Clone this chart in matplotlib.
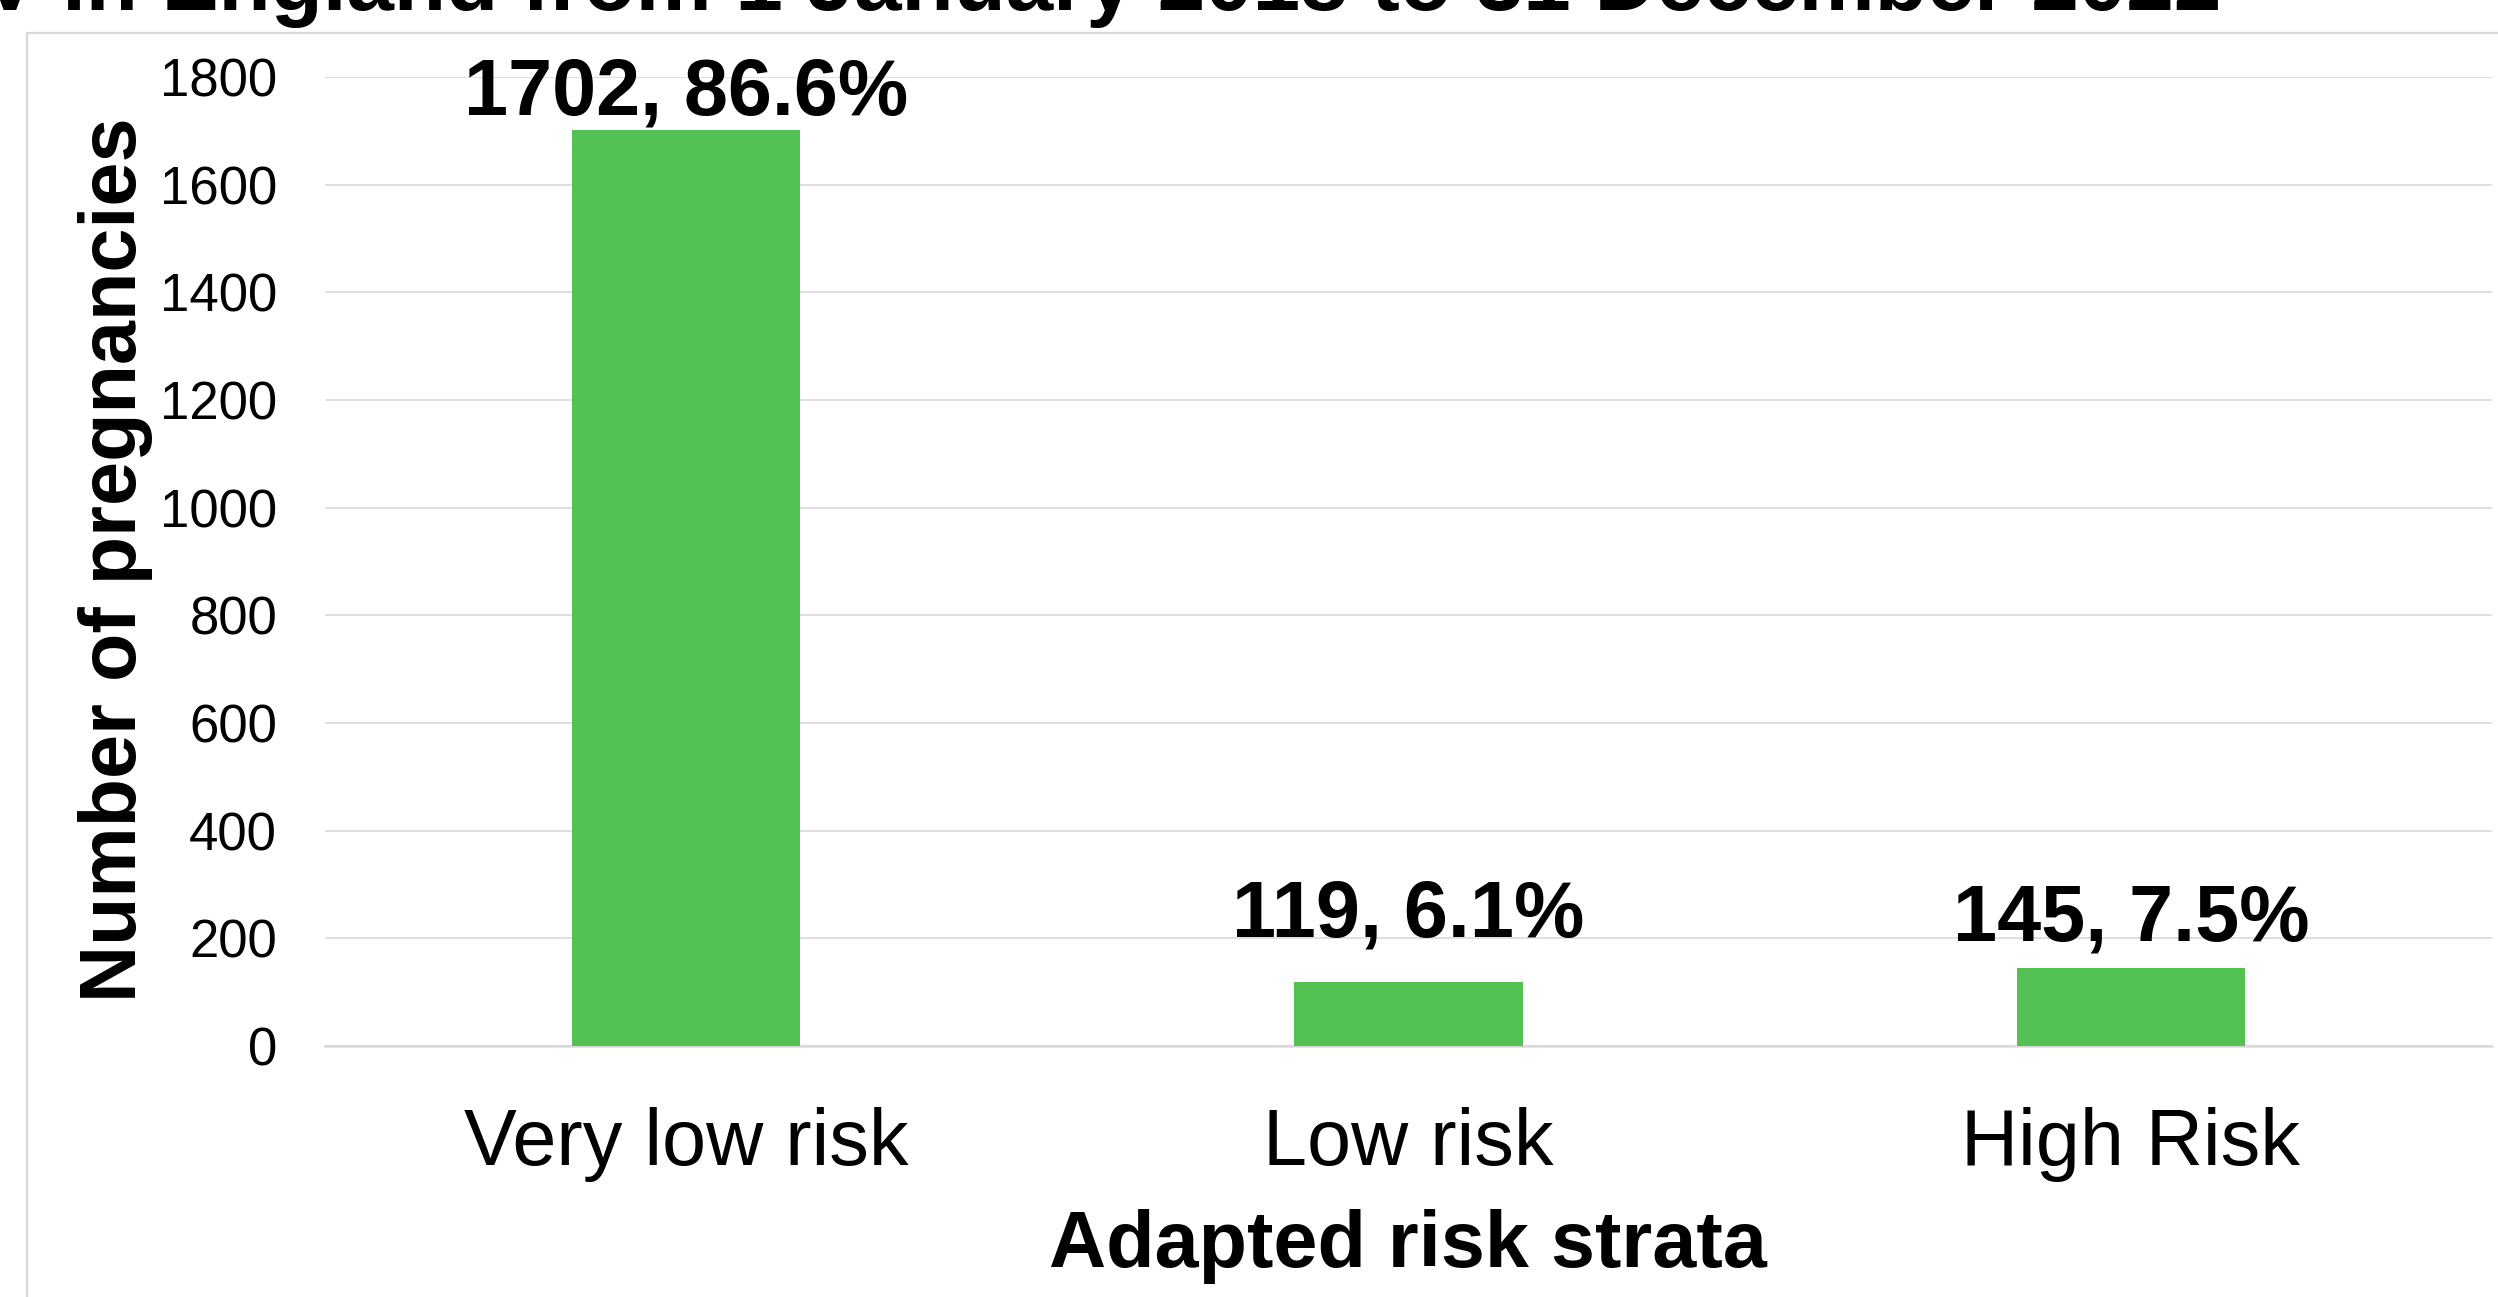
import matplotlib
matplotlib.use("Agg")
import matplotlib.pyplot as plt
from matplotlib.patches import Rectangle

# ---- data ----
categories = ["Very low risk", "Low risk", "High Risk"]
counts = [1702, 119, 145]
percents = [86.6, 6.1, 7.5]
y_ticks = [0, 200, 400, 600, 800, 1000, 1200, 1400, 1600, 1800]
title_text = "HIV in England from 1 January 2018 to 31 December 2022"
x_title = "Adapted risk strata"
y_title = "Number of pregnancies"

# ---- style ----
label_offsets_pt = [10.8, 32.4, 19.4]
bar_color = "#54C153"
grid_color = "#D9D9D9"
W, H = 2498, 1297
DPI = 100

plt.rcParams["font.family"] = ["Liberation Sans", "DejaVu Sans"]

fig = plt.figure(figsize=(W / DPI, H / DPI), dpi=DPI)
fig.patch.set_facecolor("white")

# chart-area border (extends beyond the visible image on right/bottom)
border = Rectangle((27 / W, -0.1), 1.2, 1 - 33 / H + 0.1, transform=fig.transFigure,
                   fill=False, edgecolor=grid_color, linewidth=1.6, zorder=0)
fig.add_artist(border)

ax_left, ax_right = 325 / W, 2492 / W
ax_bottom, ax_top = 1 - 1046 / H, 1 - 77 / H
ax = fig.add_axes([ax_left, ax_bottom, ax_right - ax_left, ax_top - ax_bottom])

x = list(range(len(categories)))
bars = ax.bar(x, counts, width=0.316, color=bar_color, zorder=3)

ax.set_xlim(-0.5, len(categories) - 0.5)
ax.set_ylim(0, 1800)
ax.set_yticks(y_ticks)
ax.set_yticklabels([str(t) for t in y_ticks], fontsize=38)
ax.set_xticks(x)
ax.set_xticklabels(categories, fontsize=57)
ax.tick_params(axis="y", length=0, pad=34.5)
ax.tick_params(axis="x", length=0, pad=44)

ax.grid(axis="y", color=grid_color, linewidth=1.2, zorder=0)
ax.set_axisbelow(True)
for s in ["top", "right", "left"]:
    ax.spines[s].set_visible(False)
ax.spines["bottom"].set_color(grid_color)
ax.spines["bottom"].set_linewidth(1.8)

for xi, c, p, off in zip(x, counts, percents, label_offsets_pt):
    ax.annotate(f"{c}, {p}%", xy=(xi, c), xytext=(0, off), textcoords="offset points",
                ha="center", va="baseline", fontsize=57, fontweight="bold", color="black")

fig.text(1408 / W, 1 - 1267 / H, x_title, ha="center", va="baseline",
         fontsize=57, fontweight="bold")
fig.text(116 / W, 1 - 560 / H, y_title, ha="center", va="center", rotation=90,
         fontsize=57, fontweight="bold")

# title, mostly cut off at the top of the image
fig.text(2221 / W, 1 - 10 / H, title_text, ha="right", va="baseline",
         fontsize=61.5, fontweight="bold")

fig.savefig("out.png", dpi=DPI)
